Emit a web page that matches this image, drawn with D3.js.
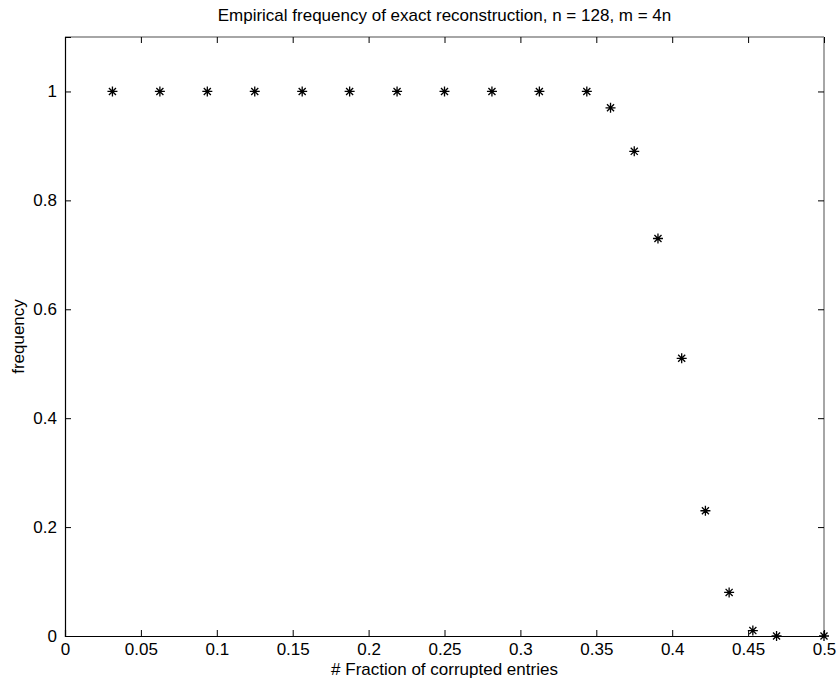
<!DOCTYPE html>
<html>
<head>
<meta charset="utf-8">
<script src="https://cdn.jsdelivr.net/npm/d3@7"></script>
<style>
  body { margin: 0; background: #fff; }
  text { font-family: "Liberation Sans", Arial, sans-serif; fill: #000; }
</style>
</head>
<body>
<div id="chart"></div>
<script>
// data
const fractions = [0.03125, 0.0625, 0.09375, 0.125, 0.15625, 0.1875, 0.21875, 0.25, 0.28125, 0.3125, 0.34375,
                   0.359375, 0.375, 0.390625, 0.40625, 0.421875, 0.4375, 0.453125, 0.46875, 0.5];
const frequencies = [1, 1, 1, 1, 1, 1, 1, 1, 1, 1, 1,
                     0.97, 0.89, 0.73, 0.51, 0.23, 0.08, 0.01, 0, 0];
const xTicks = [0, 0.05, 0.1, 0.15, 0.2, 0.25, 0.3, 0.35, 0.4, 0.45, 0.5];
const yTicks = [0, 0.2, 0.4, 0.6, 0.8, 1];
const titleText = "Empirical frequency of exact reconstruction, n = 128, m = 4n";
const xLabel = "# Fraction of corrupted entries";
const yLabel = "frequency";

const W = 837, H = 680;
const margin = {top: 37, right: 13, bottom: 44, left: 65};
const width = W - margin.left - margin.right,
      height = H - margin.top - margin.bottom;

const svg = d3.select("#chart").append("svg")
  .attr("width", W)
  .attr("height", H);

const g = svg.append("g")
  .attr("transform", "translate(" + margin.left + "," + margin.top + ")");

const x = d3.scaleLinear().domain([0, 0.5]).range([0, width]);
const y = d3.scaleLinear().domain([0, 1.1]).range([height, 0]);

// frame: top and right in grey, left and bottom in black
g.append("line").attr("x1", 0).attr("x2", width).attr("y1", 0).attr("y2", 0)
  .attr("stroke", "#888").attr("stroke-width", 1.5);
g.append("line").attr("x1", width).attr("x2", width).attr("y1", 0).attr("y2", height)
  .attr("stroke", "#888").attr("stroke-width", 1.5);

const fmt = d => d === 0 ? "0" : String(+d.toFixed(2));

// bottom axis, ticks pointing inwards
const xAxis = g.append("g")
  .attr("transform", "translate(0," + height + ")")
  .call(d3.axisBottom(x).tickValues(xTicks).tickSize(-6).tickPadding(6).tickFormat(fmt));
// top ticks (no labels)
g.append("g")
  .call(d3.axisTop(x).tickValues(xTicks).tickSize(-6).tickFormat(""))
  .call(a => a.select(".domain").remove())
  .selectAll("line").attr("stroke", "#000");

const yAxis = g.append("g")
  .call(d3.axisLeft(y).tickValues(yTicks).tickSize(-6).tickPadding(8).tickFormat(fmt));
g.append("g")
  .attr("transform", "translate(" + width + ",0)")
  .call(d3.axisRight(y).tickValues(yTicks).tickSize(-6).tickFormat(""))
  .call(a => a.select(".domain").remove());

[xAxis, yAxis].forEach(a => {
  a.select(".domain").attr("stroke", "#000").attr("stroke-width", 1.2);
  a.selectAll("text").style("font-size", "17px").attr("fill", "#000");
});
xAxis.selectAll("text").attr("dy", "0.75em");

// asterisk markers
const r = 5;
const marks = g.append("g").selectAll("g")
  .data(fractions.map((f, i) => ({x: f, y: frequencies[i]})))
  .enter().append("g")
  .attr("transform", d => "translate(" + x(d.x) + "," + y(d.y) + ")");
const d45 = r * Math.SQRT1_2;
marks.append("path")
  .attr("d", "M" + (-r) + ",0L" + r + ",0M0," + (-r) + "L0," + r +
             "M" + (-d45) + "," + (-d45) + "L" + d45 + "," + d45 +
             "M" + (-d45) + "," + d45 + "L" + d45 + "," + (-d45))
  .attr("stroke", "#000")
  .attr("stroke-width", 1.3)
  .attr("fill", "none");

// texts
svg.append("text")
  .attr("x", margin.left + width / 2).attr("y", 21)
  .attr("text-anchor", "middle").style("font-size", "17px")
  .text(titleText);
svg.append("text")
  .attr("x", margin.left + width / 2).attr("y", 675)
  .attr("text-anchor", "middle").style("font-size", "17px")
  .text(xLabel);
svg.append("text")
  .attr("transform", "translate(24," + (margin.top + height / 2) + ") rotate(-90)")
  .attr("text-anchor", "middle").style("font-size", "17px")
  .text(yLabel);
</script>
</body>
</html>
